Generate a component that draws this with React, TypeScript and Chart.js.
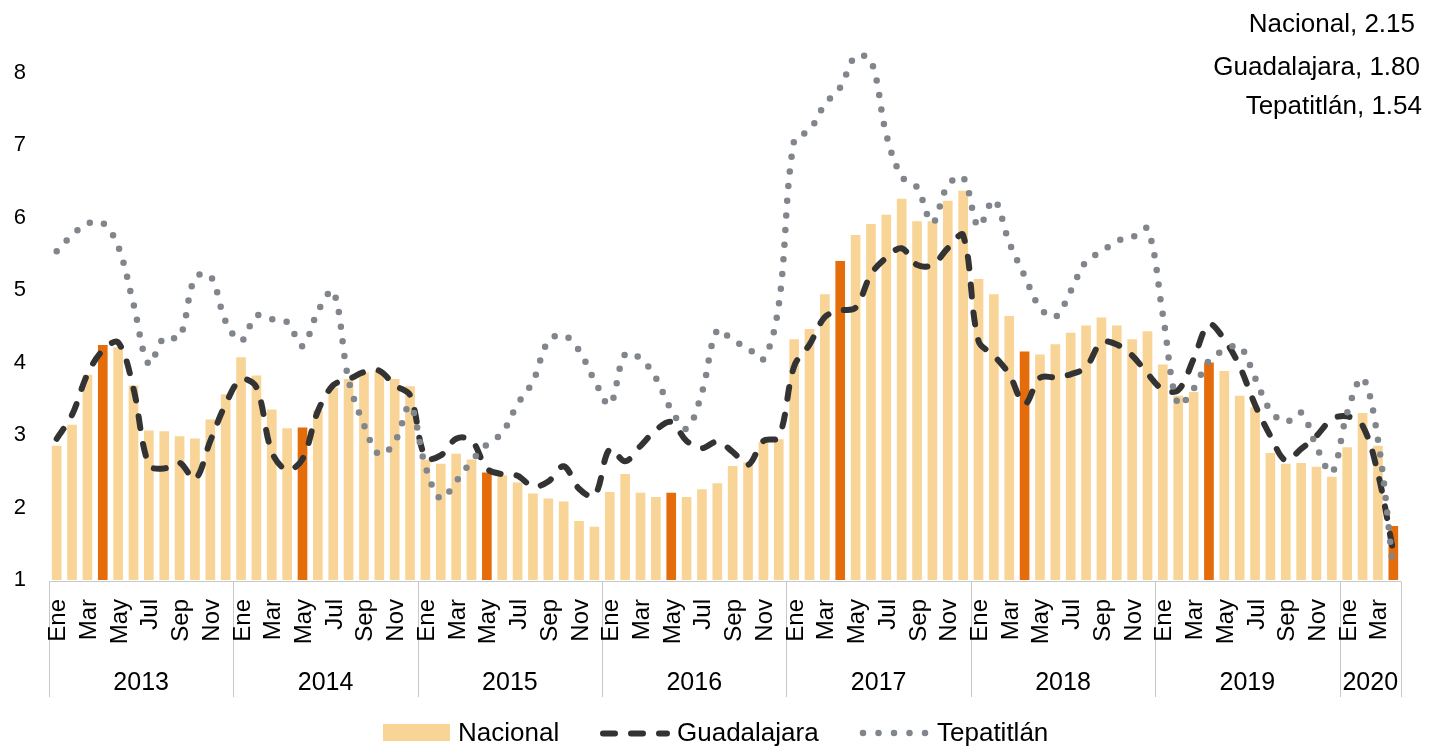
import React, { useEffect, useRef } from "react";
import { Chart, registerables } from "chart.js";

Chart.register(...registerables);

const FONT = "'Liberation Sans', Arial, Helvetica, sans-serif";

const years = ["2013", "2014", "2015", "2016", "2017", "2018", "2019", "2020"];
const monthNames = ["Ene", "Feb", "Mar", "Abr", "May", "Jun", "Jul", "Ago", "Sep", "Oct", "Nov", "Dic"];
const monthsPerYear = [12, 12, 12, 12, 12, 12, 12, 4];

const nacional = [
  2.85, 3.14, 3.83, 4.24, 4.21, 3.68, 3.06, 3.05, 2.98, 2.95, 3.21, 3.56,
  4.07, 3.82, 3.35, 3.09, 3.10, 3.34, 3.65, 3.77, 3.86, 3.88, 3.77, 3.67,
  2.66, 2.60, 2.74, 2.66, 2.48, 2.44, 2.34, 2.19, 2.12, 2.08, 1.81, 1.73,
  2.21, 2.46, 2.20, 2.14, 2.20, 2.14, 2.25, 2.33, 2.57, 2.62, 2.90, 2.94,
  4.32, 4.46, 4.94, 5.40, 5.76, 5.91, 6.04, 6.26, 5.95, 5.95, 6.23, 6.37,
  5.15, 4.94, 4.64, 4.15, 4.11, 4.25, 4.41, 4.51, 4.62, 4.51, 4.32, 4.43,
  3.97, 3.54, 3.59, 4.00, 3.88, 3.54, 3.38, 2.75, 2.60, 2.61, 2.56, 2.42,
  2.83, 3.30, 2.85, 1.74,
];

const guadalajara = [
  2.95, 3.28, 3.84, 4.17, 4.28, 3.64, 2.59, 2.54, 2.62, 2.39, 2.92, 3.43,
  3.77, 3.66, 2.77, 2.52, 2.67, 3.33, 3.69, 3.77, 3.87, 3.89, 3.69, 3.55,
  2.69, 2.72, 2.95, 2.93, 2.54, 2.46, 2.44, 2.29, 2.36, 2.57, 2.26, 2.16,
  2.81, 2.64, 2.85, 3.07, 3.18, 2.92, 2.82, 2.91, 2.77, 2.59, 2.92, 2.97,
  3.95, 4.25, 4.63, 4.72, 4.76, 5.22, 5.45, 5.58, 5.35, 5.35, 5.58, 5.76,
  4.30, 4.10, 3.84, 3.43, 3.79, 3.80, 3.84, 3.94, 4.28, 4.25, 4.10, 3.85,
  3.63, 3.62, 4.05, 4.53, 4.32, 3.95, 3.42, 2.99, 2.65, 2.81, 2.99, 3.22,
  3.26, 3.13, 2.47, 1.39,
];

const tepatitlan = [
  5.54, 5.76, 5.92, 5.93, 5.61, 4.81, 3.98, 4.35, 4.35, 5.17, 5.20, 4.57,
  4.30, 4.65, 4.60, 4.56, 4.23, 4.71, 4.99, 3.76, 3.14, 2.73, 2.90, 3.41,
  2.57, 2.12, 2.36, 2.64, 2.87, 3.03, 3.43, 3.74, 4.30, 4.38, 4.17, 3.76,
  3.42, 4.12, 4.06, 3.79, 3.35, 3.09, 3.59, 4.45, 4.31, 4.20, 4.05, 4.80,
  7.07, 7.21, 7.57, 7.80, 8.23, 8.17, 7.15, 6.57, 6.42, 5.93, 6.45, 6.56,
  5.88, 6.25, 5.66, 5.20, 4.76, 4.63, 4.99, 5.40, 5.53, 5.68, 5.73, 5.85,
  4.66, 3.42, 3.64, 4.03, 4.17, 4.23, 3.79, 3.34, 3.18, 3.31, 2.84, 2.48,
  3.31, 3.79, 2.94, 1.14,
];

// bars shown in the darker orange
const highlightIdx = [3, 16, 28, 40, 51, 63, 75, 87];

const seriesNames = ["Nacional", "Guadalajara", "Tepatitlán"];
const finalValues = [2.15, 1.8, 1.54];

const yTicks = [1, 2, 3, 4, 5, 6, 7, 8];

export default function App() {
  const ref = useRef<HTMLCanvasElement | null>(null);

  useEffect(() => {
    document.body.style.margin = "0";
    const canvas = ref.current;
    if (!canvas) return;

    const LIGHT = "#F9D497";
    const DARK = "#E46C0A";
    const GUAD = "#333333";
    const TEP = "#80868C";

    const labels: string[] = [];
    years.forEach((y, k) => {
      for (let m = 0; m < monthsPerYear[k]; m++) labels.push(monthNames[m] + " " + y);
    });
    const barColors = nacional.map((_, i) => (highlightIdx.includes(i) ? DARK : LIGHT));

    const overlay = {
      id: "overlay",
      afterDraw(chart: any) {
        const { ctx, chartArea } = chart;
        const n = labels.length;
        const step = (chartArea.right - chartArea.left) / n;
        ctx.save();

        // axis line + year separators
        ctx.strokeStyle = "#C8C8C8";
        ctx.lineWidth = 1;
        ctx.beginPath();
        const axisY = Math.round(chartArea.bottom) + 1.5;
        ctx.moveTo(chartArea.left, axisY);
        ctx.lineTo(chartArea.right, axisY);
        let start = 0;
        const bounds: number[] = [0];
        monthsPerYear.forEach((c) => {
          start += c;
          bounds.push(start);
        });
        bounds.forEach((b) => {
          const xb = Math.round(chartArea.left + b * step) + 0.5;
          ctx.moveTo(xb, axisY);
          ctx.lineTo(xb, 697);
        });
        ctx.stroke();

        // month labels (rotated)
        ctx.fillStyle = "#000";
        ctx.font = `24px ${FONT}`;
        ctx.textAlign = "right";
        ctx.textBaseline = "alphabetic";
        for (let i = 0; i < n; i++) {
          const m = i % 12;
          if (m % 2 !== 0) continue;
          const cx = chart.scales.x.getPixelForValue(i);
          ctx.save();
          ctx.translate(cx + 8.5, 599);
          ctx.rotate(-Math.PI / 2);
          ctx.fillText(monthNames[m], 0, 0);
          ctx.restore();
        }

        // year labels
        ctx.font = `25px ${FONT}`;
        ctx.textAlign = "center";
        for (let k = 0; k < years.length; k++) {
          const x0 = chartArea.left + bounds[k] * step;
          const x1 = chartArea.left + bounds[k + 1] * step;
          ctx.fillText(years[k], (x0 + x1) / 2, 690);
        }

        // legend
        ctx.fillStyle = LIGHT;
        ctx.fillRect(383, 724, 67, 17);
        ctx.fillStyle = "#000";
        ctx.font = `26px ${FONT}`;
        ctx.textAlign = "left";
        ctx.fillText(seriesNames[0], 458, 741);
        ctx.fillText(seriesNames[1], 677, 741);
        ctx.fillText(seriesNames[2], 937, 741);

        ctx.lineCap = "round";
        ctx.strokeStyle = GUAD;
        ctx.lineWidth = 6;
        ctx.setLineDash([12, 16]);
        ctx.beginPath();
        ctx.moveTo(603, 733.5);
        ctx.lineTo(667, 733.5);
        ctx.stroke();

        ctx.strokeStyle = TEP;
        ctx.lineWidth = 6.5;
        ctx.setLineDash([0, 15.5]);
        ctx.beginPath();
        ctx.moveTo(863, 733);
        ctx.lineTo(926, 733);
        ctx.stroke();
        ctx.setLineDash([]);

        // end-value annotations
        ctx.fillStyle = "#000";
        ctx.font = `26px ${FONT}`;
        ctx.textAlign = "right";
        const ys = [32, 75, 114];
        const xs = [1415, 1420, 1422];
        seriesNames.forEach((nm, k) => {
          ctx.fillText(`${nm}, ${finalValues[k].toFixed(2)}`, xs[k], ys[k]);
        });

        ctx.restore();
      },
    };

    const chart = new Chart(canvas, {
      type: "bar",
      data: {
        labels,
        datasets: [
          {
            type: "bar",
            label: seriesNames[0],
            data: nacional,
            backgroundColor: barColors,
            barThickness: 9,
            order: 3,
          } as any,
          {
            type: "line",
            label: seriesNames[1],
            data: guadalajara,
            borderColor: GUAD,
            borderWidth: 6,
            borderDash: [12, 16],
            borderCapStyle: "round",
            borderJoinStyle: "round",
            pointRadius: 0,
            tension: 0.35,
            fill: false,
            order: 2,
            clip: false,
          } as any,
          {
            type: "line",
            label: seriesNames[2],
            data: tepatitlan,
            borderColor: TEP,
            borderWidth: 6.5,
            borderDash: [0, 14.7],
            borderCapStyle: "round",
            borderJoinStyle: "round",
            pointRadius: 0,
            tension: 0.35,
            fill: false,
            order: 1,
            clip: false,
          } as any,
        ],
      },
      options: {
        responsive: false,
        animation: false,
        devicePixelRatio: 1,
        layout: { padding: { top: 73, bottom: 166, right: 31, left: 0 } },
        plugins: { legend: { display: false }, tooltip: { enabled: false } },
        elements: { line: { capBezierPoints: false } as any },
        scales: {
          x: { display: false, offset: true, grid: { display: false } },
          y: {
            min: yTicks[0],
            max: yTicks[yTicks.length - 1],
            afterFit: (s: any) => {
              s.width = 49;
            },
            grid: { display: false, drawTicks: false },
            border: { display: false },
            ticks: {
              stepSize: 1,
              padding: 23,
              color: "#000",
              font: { family: FONT, size: 22 },
            },
          },
        },
      } as any,
      plugins: [overlay],
    });

    return () => chart.destroy();
  }, []);

  return (
    <canvas
      ref={ref}
      width={1432}
      height={746}
      style={{ display: "block", width: "1432px", height: "746px" }}
    />
  );
}
